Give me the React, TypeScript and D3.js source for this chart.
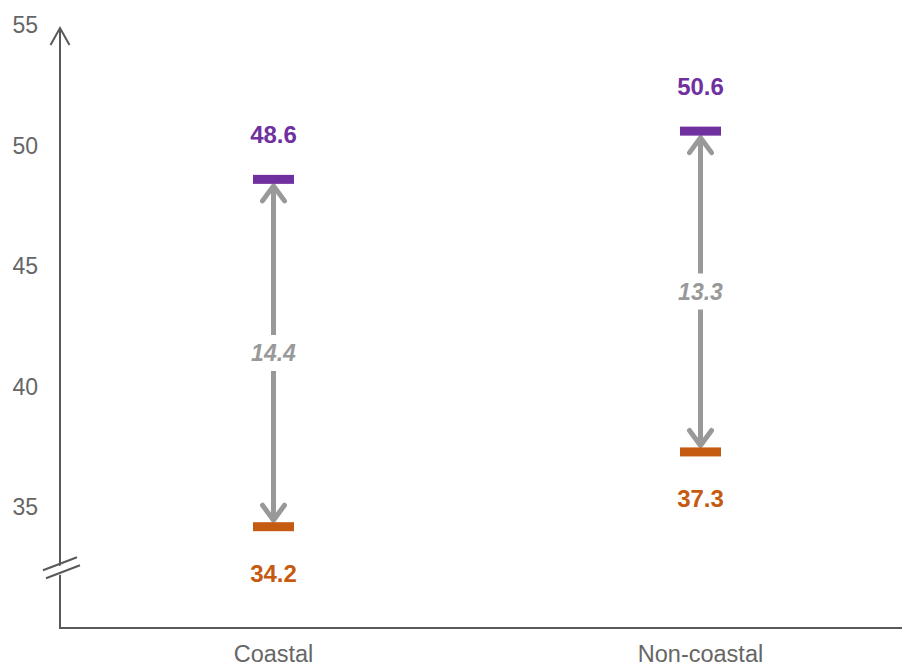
import React, { useEffect, useRef } from 'react';
import * as d3 from 'd3';

// Chart data
const categories = ['Coastal', 'Non-coastal'];
const lowValues = [34.2, 37.3];
const highValues = [48.6, 50.6];
const yTicks = [35, 40, 45, 50, 55];
const yDomain = [30, 55];
const breakValue = 32.5;

const FONT = '"Liberation Sans", Arial, Helvetica, sans-serif';

const App = () => {
    const svgRef = useRef<SVGSVGElement | null>(null);

    useEffect(() => {
        if (!svgRef.current) return;
        const svg = d3.select(svgRef.current);
        svg.selectAll('*').remove();

        const width = 902;
        const height = 666;
        const axisX = 60;
        const axisY = 628;

        // Scales
        const yScale = d3.scaleLinear().domain(yDomain).range([axisY, 25]);
        const xScale = d3.scalePoint<string>()
            .domain(categories)
            .range([axisX, 914])
            .padding(0.5);

        const axisColor = '#595959';
        const tickColor = '#666666';
        const arrowColor = '#999999';
        const purple = '#7030A0';
        const orange = '#C55A11';

        svg.attr('width', width).attr('height', height);

        // Y axis line with arrow head
        const tipY = yScale(55) + 3;
        svg.append('line')
            .attr('x1', axisX).attr('x2', axisX)
            .attr('y1', axisY).attr('y2', tipY)
            .attr('stroke', axisColor).attr('stroke-width', 2);

        svg.append('path')
            .attr('d', `M${axisX - 9.5},${tipY + 17} L${axisX},${tipY} L${axisX + 9.5},${tipY + 17}`)
            .attr('fill', 'none')
            .attr('stroke', axisColor)
            .attr('stroke-width', 2);

        // X axis line
        svg.append('line')
            .attr('x1', axisX - 1).attr('x2', width)
            .attr('y1', axisY).attr('y2', axisY)
            .attr('stroke', axisColor).attr('stroke-width', 2);

        // Axis break marks
        const by = yScale(breakValue);
        const dx = 17;
        const dy = 6.5;
        svg.append('path')
            .attr('d', `M${axisX - dx},${by - 2 + dy} L${axisX + dx},${by - 2 - dy} L${axisX + dx + 3},${by + 6 - dy} L${axisX - dx + 3},${by + 6 + dy} Z`)
            .attr('fill', '#fff');
        [-4, 4].forEach(off => {
            svg.append('line')
                .attr('x1', axisX - dx + (off > 0 ? 3 : 0)).attr('y1', by + off + dy)
                .attr('x2', axisX + dx + (off > 0 ? 3 : 0)).attr('y2', by + off - dy)
                .attr('stroke', axisColor).attr('stroke-width', 2);
        });

        // Y tick labels
        svg.selectAll('.ytick')
            .data(yTicks)
            .enter()
            .append('text')
            .attr('x', 38)
            .attr('y', d => yScale(d))
            .attr('dy', '0.35em')
            .attr('text-anchor', 'end')
            .attr('fill', tickColor)
            .attr('font-family', FONT)
            .attr('font-size', '23px')
            .text(d => d);

        // Category labels
        svg.selectAll('.xlabel')
            .data(categories)
            .enter()
            .append('text')
            .attr('x', d => xScale(d) as number)
            .attr('y', 662)
            .attr('text-anchor', 'middle')
            .attr('fill', tickColor)
            .attr('font-family', FONT)
            .attr('font-size', '23.5px')
            .text(d => d);

        const barW = 41;
        const barH = 9;
        const gapHalf = 18;

        categories.forEach((cat, i) => {
            const cx = xScale(cat) as number;
            const yHi = yScale(highValues[i]);
            const yLo = yScale(lowValues[i]);
            const yMid = yScale((highValues[i] + lowValues[i]) / 2);
            const diff = (highValues[i] - lowValues[i]).toFixed(1);

            // Arrow shafts (gap for the label)
            const top = yHi + barH / 2 + 2;
            const bot = yLo - barH / 2 - 2;
            svg.append('line')
                .attr('x1', cx).attr('x2', cx)
                .attr('y1', top).attr('y2', yMid - gapHalf)
                .attr('stroke', arrowColor).attr('stroke-width', 5);
            svg.append('line')
                .attr('x1', cx).attr('x2', cx)
                .attr('y1', yMid + gapHalf).attr('y2', bot)
                .attr('stroke', arrowColor).attr('stroke-width', 5);

            // Arrow heads
            svg.append('path')
                .attr('d', `M${cx - 11},${top + 15} L${cx},${top} L${cx + 11},${top + 15}`)
                .attr('fill', 'none').attr('stroke', arrowColor)
                .attr('stroke-width', 5).attr('stroke-linecap', 'round').attr('stroke-linejoin', 'round');
            svg.append('path')
                .attr('d', `M${cx - 11},${bot - 15} L${cx},${bot} L${cx + 11},${bot - 15}`)
                .attr('fill', 'none').attr('stroke', arrowColor)
                .attr('stroke-width', 5).attr('stroke-linecap', 'round').attr('stroke-linejoin', 'round');

            // Bars
            svg.append('rect')
                .attr('x', cx - barW / 2).attr('y', yHi - barH / 2)
                .attr('width', barW).attr('height', barH)
                .attr('fill', purple);
            svg.append('rect')
                .attr('x', cx - barW / 2).attr('y', yLo - barH / 2)
                .attr('width', barW).attr('height', barH)
                .attr('fill', orange);

            // Value labels
            svg.append('text')
                .attr('x', cx).attr('y', yHi - 36)
                .attr('text-anchor', 'middle')
                .attr('fill', purple)
                .attr('font-family', FONT)
                .attr('font-weight', 700)
                .attr('font-size', '24px')
                .text(highValues[i].toFixed(1));
            svg.append('text')
                .attr('x', cx).attr('y', yLo + 55)
                .attr('text-anchor', 'middle')
                .attr('fill', orange)
                .attr('font-family', FONT)
                .attr('font-weight', 700)
                .attr('font-size', '24px')
                .text(lowValues[i].toFixed(1));

            // Difference label
            svg.append('text')
                .attr('x', cx).attr('y', yMid)
                .attr('dy', '0.35em')
                .attr('text-anchor', 'middle')
                .attr('fill', arrowColor)
                .attr('font-family', FONT)
                .attr('font-weight', 700)
                .attr('font-style', 'italic')
                .attr('font-size', '23px')
                .text(diff);
        });
    }, []);

    return (
        <div style={{ position: 'fixed', left: 0, top: 0, width: 902, height: 666, background: '#fff' }}>
            <svg ref={svgRef} style={{ display: 'block' }}></svg>
        </div>
    );
};

export default App;
